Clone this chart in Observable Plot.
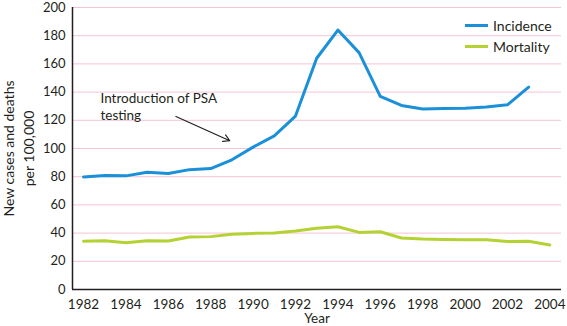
<!DOCTYPE html>
<html>
<head>
<meta charset="utf-8">
<script src="https://cdn.jsdelivr.net/npm/d3@7"></script>
<script src="https://cdn.jsdelivr.net/npm/@observablehq/plot@0.6"></script>
<style>
  body { margin: 0; background: #fff; font-family: Lato, "Open Sans", sans-serif; }
  #wrap { position: relative; width: 567px; height: 326px; }
  #legend { position: absolute; left: 465px; top: 15px; font-size: 14px; color: #231f20; }
  #legend .item { display: flex; align-items: center; height: 21px; }
  #legend .sw { width: 23px; height: 3px; margin-right: 5px; }
</style>
</head>
<body>
<div id="wrap"></div>
<script>
const years = d3.range(1982, 2005);
const incidence = [79.8, 80.8, 80.6, 83.2, 82.2, 85.0, 85.8, 92, 101, 109, 123, 164, 184, 168, 137, 130.5, 128, 128.3, 128.5, 129.5, 131, 143.5];
const mortality = [34.2, 34.5, 33.1, 34.5, 34.4, 37.3, 37.5, 39.2, 39.8, 40.0, 41.5, 43.5, 44.5, 40.5, 41.0, 36.5, 35.8, 35.5, 35.3, 35.2, 34.0, 34.2, 31.6];
const seriesNames = ["Incidence", "Mortality"];
const seriesColors = ["#1a90d8", "#b4d233"];
const yTicks = d3.range(0, 201, 20);
const xTicks = d3.range(1982, 2005, 2);
const annotation = { label: "Introduction of PSA\ntesting", x: 1982.8, y: 141 };
const arrowData = [{ x1: 1986.36, y1: 122.7, x2: 1988.9, y2: 105.5 }];

const rows = [];
incidence.forEach((v, i) => rows.push({ year: years[i], value: v, series: "Incidence" }));
mortality.forEach((v, i) => rows.push({ year: years[i], value: v, series: "Mortality" }));

const chart = Plot.plot({
  width: 567,
  height: 326,
  marginLeft: 72,
  marginRight: 6,
  marginTop: 7,
  marginBottom: 37,
  style: { fontFamily: "Lato, 'Open Sans', sans-serif", fontSize: "13px", color: "#231f20", background: "#fff", overflow: "visible" },
  x: { domain: [1981.48, 2004.55] },
  y: { domain: [0, 200] },
  color: { domain: seriesNames, range: seriesColors },
  marks: [
    Plot.gridY(yTicks, { stroke: "#f6c3d6", strokeOpacity: 1, strokeWidth: 1 }),
    Plot.axisY(yTicks, { tickSize: 0, tickPadding: 7, fontSize: 13, label: null }),
    Plot.axisX(xTicks, { tickSize: 0, tickPadding: 10, fontSize: 13.5, tickFormat: d => String(d), label: null }),
    Plot.text(["Year"], { frameAnchor: "bottom", dy: 33, fontSize: 13.5 }),
    Plot.text(["New cases and deaths\nper 100,000"], { frameAnchor: "left", textAnchor: "middle", dx: -55, rotate: -90, fontSize: 14, lineHeight: 1.4 }),
    Plot.ruleX([1981.48], { stroke: "#231f20", strokeWidth: 1.5 }),
    Plot.ruleY([0], { stroke: "#231f20", strokeWidth: 1.5 }),
    Plot.line(rows, { x: "year", y: "value", z: "series", stroke: "series", strokeWidth: 3, strokeLinejoin: "round" }),
    Plot.text([annotation], { x: "x", y: "y", text: "label", textAnchor: "start", lineAnchor: "top", fontSize: 13.5, lineHeight: 1.25 }),
    Plot.arrow(arrowData, { x1: "x1", y1: "y1", x2: "x2", y2: "y2", stroke: "#231f20", strokeWidth: 1.2, headLength: 9, bend: 0 })
  ]
});

const wrap = document.getElementById("wrap");
wrap.appendChild(chart);
const legend = document.createElement("div");
legend.id = "legend";
seriesNames.forEach((n, i) => {
  const item = document.createElement("div");
  item.className = "item";
  const sw = document.createElement("span");
  sw.className = "sw";
  sw.style.background = seriesColors[i];
  const t = document.createElement("span");
  t.textContent = n;
  item.appendChild(sw); item.appendChild(t);
  legend.appendChild(item);
});
wrap.appendChild(legend);
</script>
</body>
</html>
